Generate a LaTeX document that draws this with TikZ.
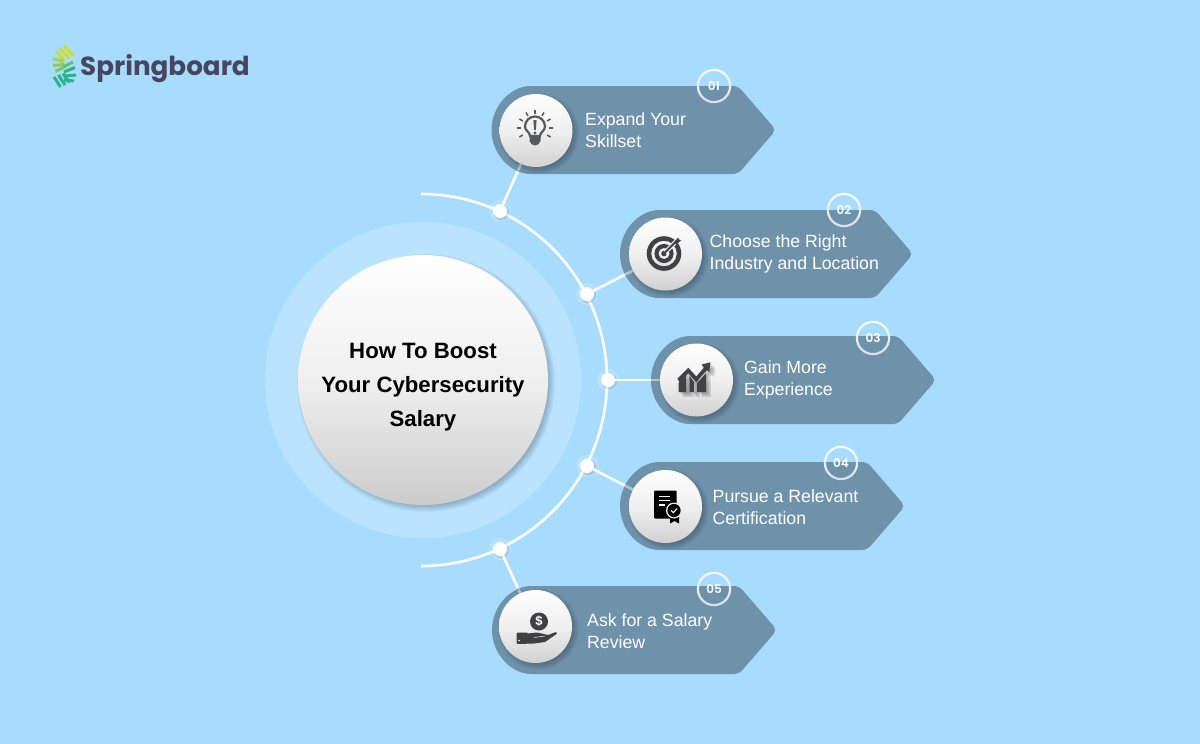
\documentclass[tikz,border=0pt]{standalone}
\usepackage{fontspec}
\setmainfont{Liberation Sans}
\newfontfamily\logofont{Poppins}[UprightFont=* Bold]
\newfontfamily\badgefont{Poppins SemiBold}
\usetikzlibrary{calc}
\definecolor{bgc}{HTML}{A8DCFF}
\definecolor{haloc}{HTML}{B9E3FF}
\definecolor{pillc}{HTML}{6F92AB}
\definecolor{inpill}{HTML}{B2C2CE}
\definecolor{darkicon}{HTML}{414042}
\definecolor{greyicon}{HTML}{58595B}
\definecolor{logotext}{HTML}{474660}
\definecolor{logoa}{HTML}{D3DC2E}
\definecolor{logob}{HTML}{A9D24A}
\definecolor{logoc}{HTML}{5FC078}
\definecolor{logod}{HTML}{2BB38A}
\tikzset{
  x=1pt,y=-1pt,
  iconcircle/.style={circle,minimum size=73pt,inner sep=0pt,top color=white,bottom color=white!82!black,middle color=white!94!black},
  maincircle/.style={circle,minimum size=250pt,inner sep=0pt,top color=white,bottom color=white!80!black,middle color=white!94!black},
  junction/.style={circle,fill=white,minimum size=14pt,inner sep=0pt},
  conn/.style={draw=white,line width=2.6pt},
  connin/.style={draw=inpill,line width=2.6pt},
  itemtext/.style={text=white,font=\fontsize{17.7}{22}\selectfont,align=left,anchor=west,inner sep=0pt},
  badgetext/.style={text=white,font=\fontsize{12}{13}\badgefont,inner sep=0pt},
  titletext/.style={text=black,font=\fontsize{22.2}{34}\selectfont\bfseries,align=center,inner sep=0pt},
  logobar/.style={line width=3pt},
}
% soft shadow: centre x, y, radius
\newcommand{\softshadow}[3]{%
  \foreach \k in {0,1,...,7}{%
    \fill[black,opacity=0.03] ($(#1,#2)+(3,3)$) circle[radius={#3+4-\k*1.0}];%
  }}
% halo and shadow round a junction
\newcommand{\junctionback}[2]{%
  \fill[white,opacity=0.18] (#1,#2) circle[radius=11];
  \fill[black,opacity=0.10] (#1+1.5,#2+1.5) circle[radius=8];}
% pill path: left, top, unrounded tip x
\newcommand{\pillpath}[3]{%
  (#1+70,#2) -- (#3-38,#2) -- (#3,#2+44) -- (#3-38,#2+88) -- (#1+44,#2+88)
  arc[start angle=90,end angle=270,radius=44] -- cycle}
\newcommand{\ring}[2]{%
  \shade[top color=white!95!bgc,bottom color=white!72!pillc,even odd rule]
   (#1,#2) circle[radius=17.2] (#1,#2) circle[radius=15];}
\begin{document}
\begin{tikzpicture}
\useasboundingbox (0,0) rectangle (1200,744);
\fill[bgc] (0,0) rectangle (1200,744);

% logo marks
\begin{scope}[logobar]
 \draw[logoa] (63.5,45.5)--(73.5,55.5);
 \draw[logoa] (60,48.5)--(69,58.5);
 \draw[logoa!70!logob] (56.5,51.5)--(64.5,61);
 \draw[logob] (52.5,58.5)--(63.5,61.5);
 \draw[logob!60!logoc] (53,65.5)--(64.5,64.5);
 \draw[logob!40!logoc] (55.5,71.5)--(64.5,67);
 \draw[logoc] (63.5,67)--(73,62);
 \draw[logod] (64,72)--(75,67.5);
 \draw[logod] (65,76)--(76,75);
 \draw[logod] (64,80)--(74,81);
 \draw[logod] (54,77)--(60.5,87);
 \draw[logod] (58.5,75)--(65,85);
 \draw[logod] (63,73.5)--(69.5,82.5);
\end{scope}
\node[inner sep=0pt,anchor=west,text=logotext,font=\fontsize{26.2}{30}\logofont] (logo) at (80,68.5) {Springboard};

% halo and main circle
\fill[haloc] (423,380) circle[radius=158];
\softshadow{423}{380}{125}
\node[maincircle] (main) at (423,380) {};
\node[titletext] (title) at (423,387.5) {How To Boost\\Your Cybersecurity\\Salary};

% arc
\coordinate (arcstart) at (421,194);
\coordinate (arcend) at (421,566);
\draw[white,line width=2.6pt] (arcstart) arc[start angle=-90,end angle=90,radius=186];

% junctions
\junctionback{500}{211}
\junctionback{587}{294}
\junctionback{608}{380}
\junctionback{587}{466}
\junctionback{500}{549}
\node[junction] (d1) at (500,211) {};
\node[junction] (d2) at (587,294) {};
\node[junction] (d3) at (608,380) {};
\node[junction] (d4) at (587,466) {};
\node[junction] (d5) at (500,549) {};

% icon circle positions (coordinates first so that connectors go behind pills)
\path (536,130.5) coordinate (p1) (665.5,254) coordinate (p2) (696.5,380) coordinate (p3) (665.5,506.5) coordinate (p4) (535.5,626.5) coordinate (p5);
\draw[conn] (d1) -- (p1);
\draw[conn] (d2) -- (p2);
\draw[conn] (d3) -- (p3);
\draw[conn] (d4) -- (p4);
\draw[conn] (d5) -- (p5);

% pills
\begin{scope}[rounded corners=5pt]
\fill[pillc] \pillpath{491.5}{86}{776};
\fill[pillc] \pillpath{620}{210}{913};
\fill[pillc] \pillpath{651}{336}{936};
\fill[pillc] \pillpath{620}{462}{905};
\fill[pillc] \pillpath{492}{586}{777};
\end{scope}
\begin{scope}\clip \pillpath{491.5}{86}{776}; \draw[connin] (d1) -- (p1); \end{scope}
\begin{scope}\clip \pillpath{620}{210}{913}; \draw[connin] (d2) -- (p2); \end{scope}
\begin{scope}\clip \pillpath{651}{336}{936}; \draw[connin] (d3) -- (p3); \end{scope}
\begin{scope}\clip \pillpath{620}{462}{905}; \draw[connin] (d4) -- (p4); \end{scope}
\begin{scope}\clip \pillpath{492}{586}{777}; \draw[connin] (d5) -- (p5); \end{scope}

% icon circles
\softshadow{536}{130.5}{36.5}
\softshadow{665.5}{254}{36.5}
\softshadow{696.5}{380}{36.5}
\softshadow{665.5}{506.5}{36.5}
\softshadow{535.5}{626.5}{36.5}
\node[iconcircle] (c1) at (p1) {};
\node[iconcircle] (c2) at (p2) {};
\node[iconcircle] (c3) at (p3) {};
\node[iconcircle] (c4) at (p4) {};
\node[iconcircle] (c5) at (p5) {};

% badges
\ring{714}{86}
\ring{844}{210}
\ring{873}{338}
\ring{841}{463}
\ring{714}{589}
\node[badgetext] (b1) at (714,86) {01};
\node[badgetext] (b2) at (844,210) {02};
\node[badgetext] (b3) at (873,338) {03};
\node[badgetext] (b4) at (841,463) {04};
\node[badgetext] (b5) at (714,589) {05};

% texts
\node[itemtext] (t1) at (585,130.3) {Expand Your\\Skillset};
\node[itemtext] (t2) at (709.5,254.2) {Choose the Right\\Industry and Location};
\node[itemtext] (t3) at (744,380.2) {Gain More\\Experience};
\node[itemtext] (t4) at (712.5,506.8) {Pursue a Relevant\\Certification};
\node[itemtext] (t5) at (587,631.3) {Ask for a Salary\\Review};

% icon 1: bulb
\begin{scope}[shift={(535,128)}]
 \foreach \a in {-30,0,30,60,90,120,150,180,210}{
  \draw[greyicon,line width=1.5pt] (-\a:14) -- (-\a:18);}
 \draw[greyicon,line width=2.2pt] (-5,8) .. controls (-5,4) and (-10,3) .. (-10,-1.5) arc[start angle=180,end angle=360,radius=10] .. controls (10,3) and (5,4) .. (5,8) -- cycle;
 \fill[greyicon] (-5.5,9) -- (5.5,9) -- (5.5,13) .. controls (4,19) and (-4,19) .. (-5.5,13) -- cycle;
 \fill[greyicon] (-1.6,-8) -- (1.6,-8) -- (0.9,2) -- (-0.9,2) -- cycle;
 \fill[greyicon] (0,5) circle[radius=1.7];
\end{scope}

% icon 2: target
\begin{scope}[shift={(664,253.5)}]
 \fill[darkicon,even odd rule] (0,0) circle[radius=17.3] (0,0) circle[radius=12.8] (0,0) circle[radius=9.6] (0,0) circle[radius=5.6] (0,0) circle[radius=2.8];
 \draw[white!93!black,line width=4.5pt] (1,-1) -- (12,-12);
 \draw[darkicon,line width=2pt] (0,0) -- (13,-13);
 \fill[darkicon] (10,-11) -- (14,-16) -- (15,-14) -- (17,-13) -- (12,-9) -- cycle;
\end{scope}

% icon 3: chart
\begin{scope}[shift={(695,381)},scale=1.1]
 \foreach \d in {1,2,3}{
 \begin{scope}[shift={(1.5*\d,1.5*\d)},opacity=0.12]
  \fill[black] (-16,-2) -- (-6,-12) -- (1,-4) -- (8,-12) -- (6,-15) -- (14,-17) -- (13,-8) -- (11,-10) -- (1,1) -- (-6,-7) -- (-14,1) -- cycle;
  \fill[black] (-15,2) -- (-6,-5) -- (-6,10) -- (-15,10) -- cycle;
  \fill[black] (-4,-5) -- (0,0) -- (0,10) -- (-4,10) -- cycle;
  \fill[black] (2,2) -- (10,-7) -- (10,10) -- (2,10) -- cycle;
 \end{scope}}
 \fill[darkicon] (-16,-2) -- (-6,-12) -- (1,-4) -- (8,-12) -- (6,-15) -- (14,-17) -- (13,-8) -- (11,-10) -- (1,1) -- (-6,-7) -- (-14,1) -- cycle;
 \fill[darkicon] (-15,2) -- (-8,-5) -- (-8,10) -- (-15,10) -- cycle;
 \fill[darkicon] (-5,-5) -- (-1,1) -- (-1,10) -- (-5,10) -- cycle;
 \fill[darkicon] (2,2) -- (10,-7) -- (10,10) -- (2,10) -- cycle;
\end{scope}

% icon 4: document with seal
\begin{scope}
 \fill[black,rounded corners=1.2pt] (654,490.5) rectangle (676.7,518.5);
 \draw[white,line width=1.2pt] (659,496.5) -- (670,496.5) (659,500.7) -- (670,500.7) (659,505) -- (665,505);
 \fill[black] (670,516) -- (679,516) -- (679,523.5) -- (674.5,521) -- (670,523.5) -- cycle;
 \fill[white!92!black] (674,510.5) circle[radius=8];
 \fill[black] (674,510.5) circle[radius=6.6];
 \draw[white,line width=1.1pt] (671,510.5) -- (673.3,512.7) -- (677,508.5);
\end{scope}

% icon 5: hand and coin
\fill[darkicon] (539,621.5) circle[radius=9];
\node[text=white,font=\fontsize{13}{13}\selectfont\bfseries,inner sep=0pt] (dollar) at (539,621.5) {\$};
\fill[darkicon,rounded corners=1pt] (516.5,632.7) rectangle (528,643.8);
\fill[darkicon] (528,633.5) -- (537,632.5) -- (544,634) -- (548,635) -- (556,632) -- (556.8,633.8) -- (545,642) -- (534,643.5) -- (528,643.5) -- cycle;
\fill[white] (519,640.5) circle[radius=0.9];
\draw[white!85!black,line width=0.6pt] (534,637.5) -- (545,636);
\end{tikzpicture}
\end{document}
